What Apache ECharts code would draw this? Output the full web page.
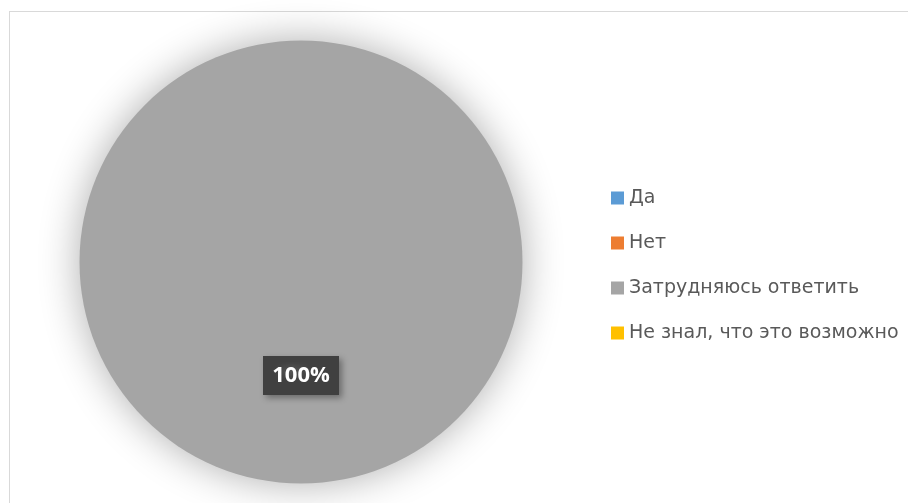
<!DOCTYPE html>
<html>
<head>
<meta charset="utf-8">
<script src="https://cdn.jsdelivr.net/npm/echarts@6/dist/echarts.min.js"></script>
<style>
    html, body { margin: 0; padding: 0; background: #fff; overflow: hidden; }
    #frame { position: absolute; left: 9px; top: 11px; width: 940px; height: 520px; border: 1px solid #d9d9d9; }
    #charts { position: absolute; left: 0; top: 0; width: 908px; height: 503px; }
</style>
</head>
<body>
<div id="frame"></div>
<div id="charts"></div>
<script>
    var categories = ["Да", "Нет", "Затрудняюсь ответить", "Не знал, что это возможно"];
    var values = [0, 0, 100, 0];
    var colors = ["#5B9BD5", "#ED7D31", "#A5A5A5", "#FFC000"];

    // dotted fill for the label box
    var dots = document.createElement('canvas');
    dots.width = 4;
    dots.height = 4;
    var ctx = dots.getContext('2d');
    ctx.fillStyle = '#404040';
    ctx.fillRect(0, 0, 4, 4);
    ctx.fillStyle = '#585858';
    ctx.fillRect(1, 1, 1, 1);

    var total = values.reduce(function (a, b) { return a + b; }, 0);
    var pieData = categories.map(function (name, i) {
        return {
            name: name,
            value: values[i],
            itemStyle: { color: colors[i] },
            label: { show: values[i] > 0 }
        };
    });

    var charts = echarts.init(document.getElementById('charts'));
    var option = {
        animation: false,
        legend: {
            orient: 'vertical',
            left: 606,
            top: 182,
            itemWidth: 13,
            itemHeight: 13,
            itemGap: 23,
            icon: 'rect',
            data: categories,
            textStyle: {
                color: '#595959',
                fontSize: 19,
                lineHeight: 22,
                fontFamily: 'DejaVu Sans'
            }
        },
        series: [
            {
                type: 'pie',
                center: [301, 262],
                radius: 221.5,
                startAngle: 90,
                clockwise: true,
                silent: true,
                stillShowZeroSum: true,
                itemStyle: {
                    shadowBlur: 40,
                    shadowColor: 'rgba(0,0,0,0.32)'
                },
                label: {
                    position: 'inside',
                    formatter: function (p) {
                        return Math.round(p.value / total * 100) + '%';
                    },
                    color: '#ffffff',
                    fontSize: 22,
                    fontWeight: 'bold',
                    fontFamily: 'Open Sans',
                    backgroundColor: { image: dots, repeat: 'repeat' },
                    padding: [9, 9, 8, 9],
                    shadowBlur: 6,
                    shadowOffsetX: 3,
                    shadowOffsetY: 3,
                    shadowColor: 'rgba(0,0,0,0.35)'
                },
                labelLine: { show: false },
                data: pieData
            }
        ]
    };
    charts.setOption(option);
</script>
</body>
</html>
